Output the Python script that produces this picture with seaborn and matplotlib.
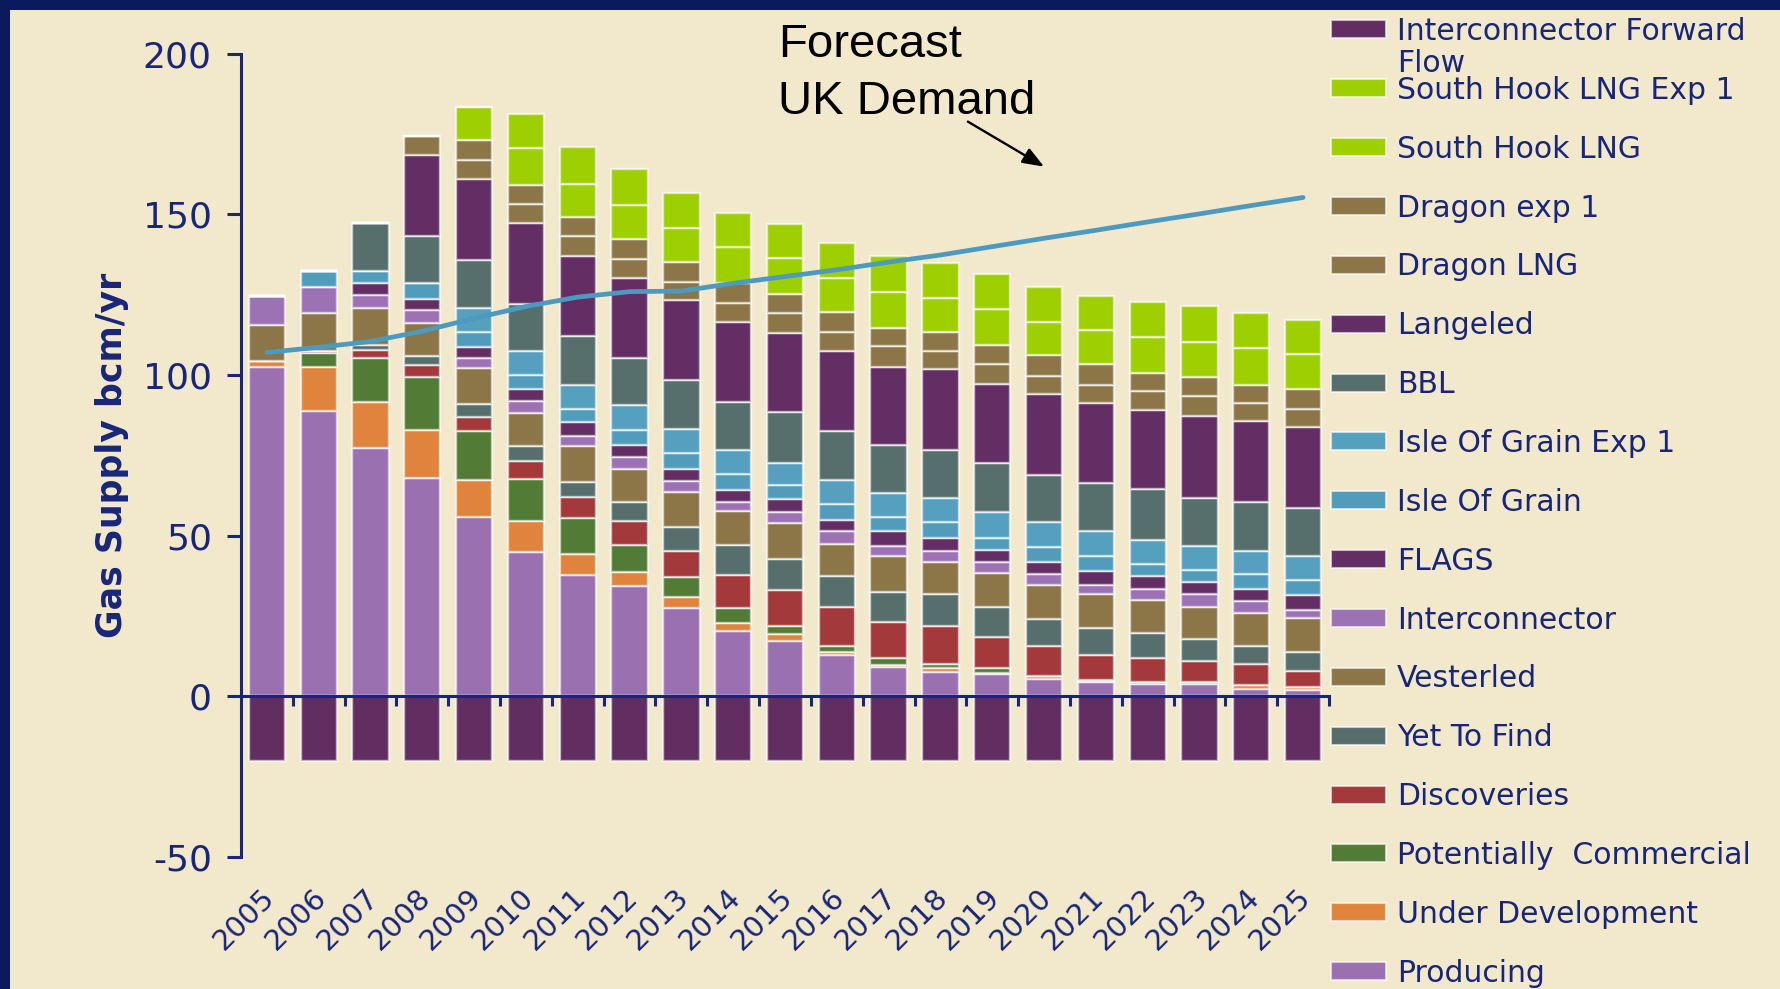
import numpy as np
import pandas as pd
import matplotlib
matplotlib.use("Agg")
import matplotlib.pyplot as plt
from matplotlib.patches import Patch, Rectangle
import seaborn as sns

# ---------------------------------------------------------------- data
years = [2005, 2006, 2007, 2008, 2009, 2010, 2011, 2012, 2013, 2014, 2015,
         2016, 2017, 2018, 2019, 2020, 2021, 2022, 2023, 2024, 2025]

# UK gas supply components, bcm/yr (stacked bottom to top)
producing = [102.6, 88.9, 77.2, 67.9, 55.9, 45.0, 37.8, 34.2, 27.6, 20.2, 17.2,
             12.9, 9.0, 7.7, 6.9, 5.4, 4.4, 3.8, 3.8, 2.3, 2.0]
under_development = [1.8, 13.7, 14.5, 15.0, 11.4, 9.6, 6.4, 4.6, 3.4, 2.5, 2.1,
                     0.8, 0.8, 1.0, 0.3, 0.9, 0.3, 0.8, 0.5, 1.2, 0.8]
potentially_commercial = [0.0, 4.2, 13.5, 16.6, 15.1, 12.9, 11.4, 8.3, 6.0, 4.9, 2.7,
                          2.1, 2.1, 1.5, 1.5, 0.0, 0.5, 0.0, 0.0, 0.0, 0.0]
discoveries = [0.0, 0.7, 2.6, 3.6, 4.6, 5.7, 6.4, 7.5, 8.2, 10.2, 11.1,
               12.1, 11.2, 11.8, 9.9, 9.5, 7.7, 7.3, 6.7, 6.5, 5.1]
yet_to_find = [0.0, 0.0, 1.5, 2.9, 3.9, 4.7, 4.8, 5.7, 7.6, 9.3, 9.7,
               9.4, 9.5, 9.8, 9.3, 8.3, 8.5, 7.9, 6.7, 5.8, 5.8]
vesterled = [11.2, 11.7, 11.5, 10.1, 11.2, 10.4, 11.1, 10.4, 10.7, 10.7, 11.1,
             10.2, 11.1, 10.1, 10.4, 10.4, 10.4, 10.2, 10.2, 10.1, 10.6]
interconnector = [8.8, 8.3, 4.1, 4.1, 3.1, 3.6, 3.1, 3.6, 3.5, 2.5, 3.3,
                  3.8, 3.1, 3.2, 3.6, 3.5, 2.9, 3.4, 3.9, 3.8, 2.6]
flags = [0.0, 0.0, 3.6, 3.4, 3.6, 3.7, 4.5, 3.9, 3.8, 3.9, 4.2,
         3.7, 4.5, 4.3, 3.7, 3.9, 4.3, 4.1, 3.7, 3.7, 4.7]
isle_of_grain = [0.0, 4.7, 3.7, 4.9, 4.7, 4.3, 3.8, 4.6, 4.8, 4.9, 4.2,
                 4.8, 4.6, 4.8, 3.8, 4.7, 4.8, 3.6, 3.8, 4.6, 4.6]
isle_of_grain_exp1 = [0.0, 0.0, 0.0, 0.0, 7.3, 7.6, 7.6, 7.7, 7.5, 7.6, 7.1,
                      7.5, 7.5, 7.4, 7.8, 7.6, 7.5, 7.6, 7.5, 7.1, 7.6]
bbl = [0.0, 0.0, 15.0, 14.8, 15.0, 14.7, 15.2, 14.7, 15.3, 14.8, 15.9,
       15.1, 14.8, 15.1, 15.5, 14.7, 15.0, 15.8, 14.8, 15.2, 14.9]
langeled = [0.0, 0.0, 0.0, 25.2, 25.1, 25.2, 24.9, 25.1, 24.9, 25.1, 24.4,
            25.1, 24.4, 25.1, 24.4, 25.2, 25.1, 24.6, 25.5, 25.4, 25.2]
dragon_lng = [0.0, 0.0, 0.0, 5.7, 6.0, 5.9, 6.3, 5.7, 5.5, 5.7, 6.4,
              5.7, 6.4, 5.5, 6.2, 5.7, 5.5, 5.9, 6.2, 5.6, 5.4]
dragon_exp1 = [0.0, 0.0, 0.0, 0.0, 6.2, 5.7, 5.7, 6.4, 6.3, 6.2, 5.8,
               6.5, 5.5, 6.2, 6.0, 6.4, 6.4, 5.7, 5.9, 5.6, 6.3]
south_hook_lng = [0.0, 0.0, 0.0, 0.0, 10.4, 11.5, 10.3, 10.5, 10.5, 11.4, 11.1,
                  10.6, 11.4, 10.4, 11.1, 10.4, 10.7, 11.2, 11.0, 11.4, 10.8]
south_hook_exp1 = [0.0, 0.0, 0.0, 0.0, 0.0, 10.8, 11.5, 11.1, 11.1, 10.4, 10.6,
                   10.7, 11.2, 10.9, 11.0, 10.6, 10.4, 10.7, 11.1, 10.9, 10.7]
# exports through the Interconnector (drawn below zero)
forward_flow = [-20, -20, -20, -20, -20, -20, -20, -20, -20, -20, -20,
                -20, -20, -20, -20, -20, -20, -20, -20, -20, -20]

# forecast UK demand, bcm/yr
demand = [107.0, 108.6, 110.4, 113.6, 117.6, 121.3, 124.2, 125.9, 126.1, 128.5, 130.6,
          132.7, 135.1, 137.3, 139.9, 142.5, 145.0, 147.6, 150.1, 152.7, 155.2]

series = {
    "Producing": producing,
    "Under Development": under_development,
    "Potentially  Commercial": potentially_commercial,
    "Discoveries": discoveries,
    "Yet To Find": yet_to_find,
    "Vesterled": vesterled,
    "Interconnector": interconnector,
    "FLAGS": flags,
    "Isle Of Grain": isle_of_grain,
    "Isle Of Grain Exp 1": isle_of_grain_exp1,
    "BBL": bbl,
    "Langeled": langeled,
    "Dragon LNG": dragon_lng,
    "Dragon exp 1": dragon_exp1,
    "South Hook LNG": south_hook_lng,
    "South Hook LNG Exp 1": south_hook_exp1,
}

palette = {
    "Interconnector Forward Flow": "#622e62",
    "South Hook LNG Exp 1": "#9ecf00",
    "South Hook LNG": "#9ecf00",
    "Dragon exp 1": "#8c7647",
    "Dragon LNG": "#8c7647",
    "Langeled": "#632e63",
    "BBL": "#566e6c",
    "Isle Of Grain Exp 1": "#559fbf",
    "Isle Of Grain": "#529cbb",
    "FLAGS": "#632e63",
    "Interconnector": "#9c72b4",
    "Vesterled": "#8c7647",
    "Yet To Find": "#566e6c",
    "Discoveries": "#a3393a",
    "Potentially  Commercial": "#527b36",
    "Under Development": "#e0843d",
    "Producing": "#9a70b0",
}

# ---------------------------------------------------------------- style
BG = "#f2e8cb"
NAVY = "#17267a"
BORDER = "#0b1a5c"
EDGE = (1.0, 1.0, 1.0, 0.65)
LINE = "#4c9ac0"

sns.set_theme(style="white", rc={"axes.facecolor": BG, "figure.facecolor": BG})
plt.rcParams["font.family"] = ["DejaVu Sans"]
plt.rcParams["axes.unicode_minus"] = False

W, H = 1780, 989
fig = plt.figure(figsize=(W / 100, H / 100), dpi=100, facecolor=BG)
ax = fig.add_axes([241 / W, 1 - 857 / H, 1088 / W, 803.5 / H], facecolor=BG)

# slide frame along the top and left edges
fig.patches.append(Rectangle((0, 1 - 10 / H), 1, 10 / H, transform=fig.transFigure,
                             facecolor=BORDER, edgecolor="none", zorder=0))
fig.patches.append(Rectangle((0, 0), 10 / W, 1, transform=fig.transFigure,
                             facecolor=BORDER, edgecolor="none", zorder=0))

# ---------------------------------------------------------------- bars
names = list(series.keys())
long = pd.DataFrame({
    "year": np.tile(years, len(names)),
    "supply": np.concatenate([series[k] for k in names]),
    "source": np.repeat(names, len(years)),
})
# seaborn stacks the last hue level at the bottom
hue_order = names[::-1]
sns.histplot(data=long, x="year", weights="supply", hue="source",
             hue_order=hue_order, palette=palette, multiple="stack",
             discrete=True, shrink=0.7, alpha=1, edgecolor=EDGE, linewidth=1.7,
             legend=False, ax=ax)

sns.histplot(x=years, weights=forward_flow, discrete=True, shrink=0.7,
             color=palette["Interconnector Forward Flow"], alpha=1,
             edgecolor=EDGE, linewidth=1.7, ax=ax)

sns.lineplot(x=years, y=demand, color=LINE, linewidth=3.4, ax=ax, zorder=6)

# ---------------------------------------------------------------- axes
ax.set_xlim(years[0] - 0.5, years[-1] + 0.5)
ax.set_ylim(-50, 200)
ax.set_yticks([-50, 0, 50, 100, 150, 200])
ax.set_xlabel("")
for side in ("top", "right"):
    ax.spines[side].set_visible(False)
for side in ("left", "bottom"):
    ax.spines[side].set_color(NAVY)
    ax.spines[side].set_linewidth(2.2)
    ax.spines[side].set_zorder(7)
ax.spines["bottom"].set_position(("data", 0))

ax.set_xticks(np.array(years) + 0.5)
ax.set_xticklabels([])
ax.tick_params(axis="x", direction="out", length=7, width=2.2, color=NAVY, bottom=True)
ax.tick_params(axis="y", direction="out", length=10, width=2.2, color=NAVY, left=True,
               labelsize=26, labelcolor=NAVY, pad=11)

ax.set_ylabel("Gas Supply bcm/yr", fontsize=25, fontweight="bold", color=NAVY)
ax.yaxis.set_label_coords(-0.103, 0.5)

# year labels along the bottom edge of the plot area
sec = ax.secondary_xaxis("bottom")
sec.set_xticks(np.array(years) - 0.12, labels=[str(y) for y in years])
sec.tick_params(length=0, labelsize=21, labelcolor=NAVY, pad=19)
plt.setp(sec.get_xticklabels(), rotation=45, ha="right", rotation_mode="anchor")
sec.spines["bottom"].set_visible(False)

# ---------------------------------------------------------------- annotation
ax.text(2014.87, 209.4, "Forecast\nUK Demand", fontsize=34, family="Liberation Sans",
        color="black", ha="left", va="top", linespacing=1.38)
ax.annotate("", xy=(2020.0, 164.8), xytext=(2018.53, 178.8),
            arrowprops=dict(arrowstyle="-|>,head_length=0.65,head_width=0.25",
                            color="black", lw=1.7, mutation_scale=20,
                            shrinkA=0, shrinkB=0))

# ---------------------------------------------------------------- legend
legend_order = ["Interconnector Forward Flow"] + names[::-1]
labels = ["Interconnector Forward"] + names[::-1]
handles = [Patch(facecolor=palette[k], edgecolor=EDGE, linewidth=1.5) for k in legend_order]
leg = fig.legend(handles, labels, loc="upper left",
                 bbox_to_anchor=(1331 / W, 1 - 17 / H), bbox_transform=fig.transFigure,
                 frameon=False, fontsize=21.5, labelcolor=NAVY,
                 handlelength=1.85, handleheight=0.55, handletextpad=0.35,
                 labelspacing=1.0, borderpad=0, borderaxespad=0)

# the first legend label wraps onto a second line without shifting the rows below
fig.canvas.draw()
first = leg.get_texts()[0].get_window_extent()
fig.text(first.x0 / W, (first.y0 - 32) / H, "Flow", ha="left", va="bottom",
         fontsize=21.5, color=NAVY)

fig.savefig("out.png", dpi=100, facecolor=BG)
